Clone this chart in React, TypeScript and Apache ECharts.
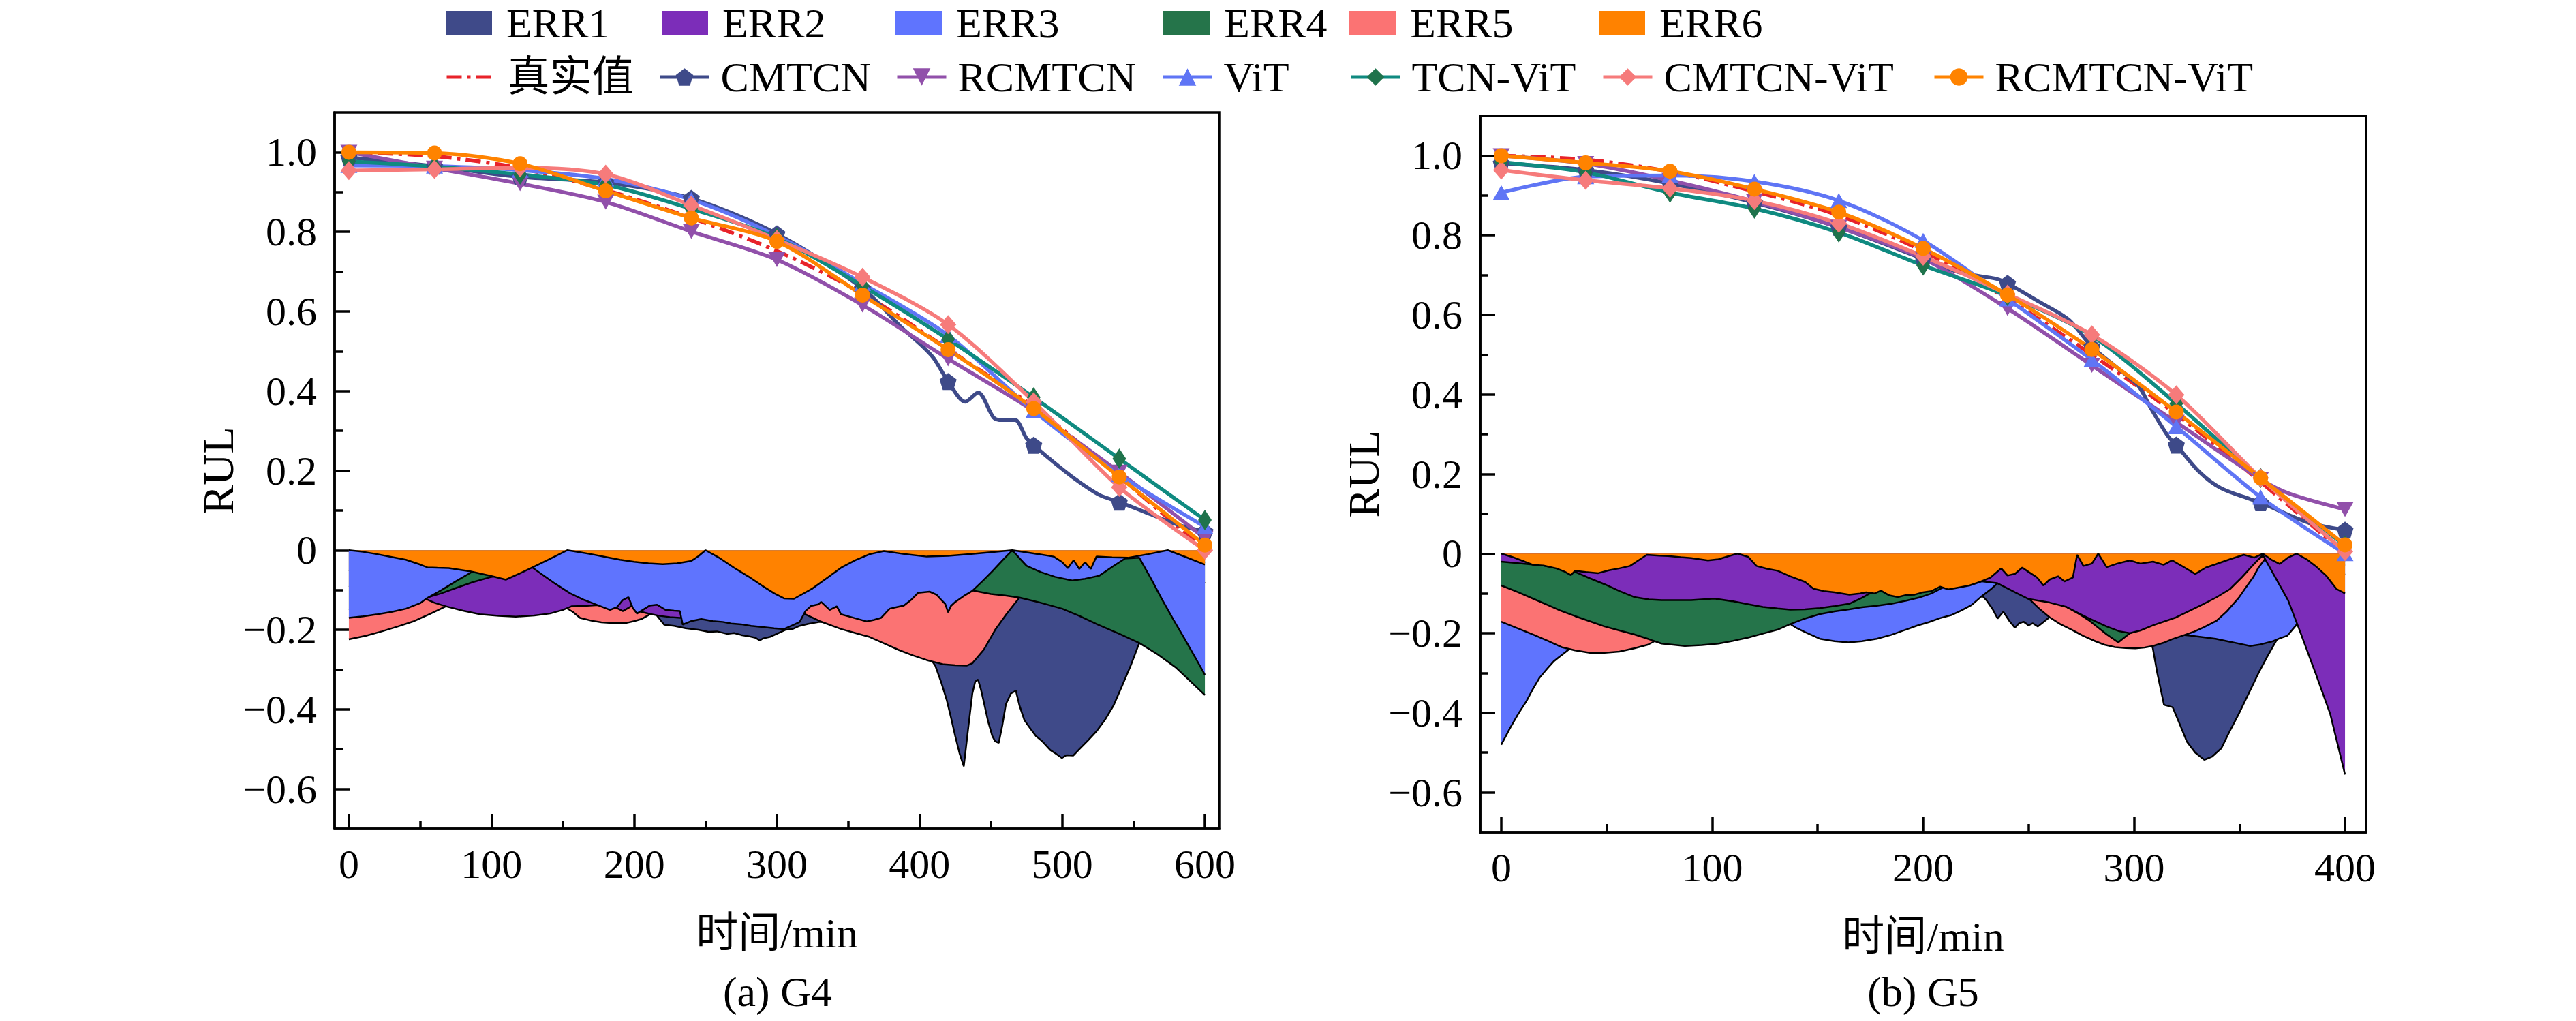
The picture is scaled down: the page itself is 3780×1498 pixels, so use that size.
import React, { useEffect, useRef } from 'react';
import * as echarts from 'echarts';

const FONT = "'Liberation Serif', 'Times New Roman', 'Noto Sans CJK SC', serif";

// 标记点时间
const timeG4 = [0, 60, 120, 180, 240, 300, 360, 420, 480, 540, 600];
const timeG5 = [0, 40, 80, 120, 160, 200, 240, 280, 320, 360, 400];

// 刻度
const xTicksG4 = [0, 100, 200, 300, 400, 500, 600];
const xMinorG4 = [50, 150, 250, 350, 450, 550];
const xTicksG5 = [0, 100, 200, 300, 400];
const xMinorG5 = [50, 150, 250, 350];
const yTicks = [-0.6, -0.4, -0.2, 0, 0.2, 0.4, 0.6, 0.8, 1.0];
const yMinor = [-0.5, -0.3, -0.1, 0.1, 0.3, 0.5, 0.7, 0.9];

// ---- G4 预测曲线 ----
const trueG4 = [1.0, 0.99, 0.96, 0.905, 0.835, 0.752, 0.645, 0.505, 0.36, 0.185, 0.0];
const cmtcnG4 = [
  [0, 0.987], [60, 0.965], [120, 0.938], [180, 0.924], [240, 0.884], [300, 0.795], [360, 0.658],
  [387, 0.561], [401, 0.516], [410, 0.482], [420, 0.424], [432, 0.373], [441, 0.396], [452, 0.333],
  [458, 0.327], [467, 0.327], [475, 0.281], [480, 0.264], [491, 0.23], [509, 0.179], [526, 0.139],
  [540, 0.121], [560, 0.093], [581, 0.064], [600, 0.047],
];
const rcmtcnG4 = [1.0, 0.96, 0.921, 0.875, 0.801, 0.73, 0.616, 0.481, 0.35, 0.196, 0.03];
const vitG4 = [0.967, 0.965, 0.955, 0.933, 0.881, 0.79, 0.67, 0.54, 0.35, 0.19, 0.059];
const tcnVitG4 = [0.977, 0.964, 0.944, 0.918, 0.858, 0.785, 0.664, 0.53, 0.384, 0.23, 0.076];
const cmtcnVitG4 = [0.954, 0.957, 0.961, 0.945, 0.867, 0.781, 0.686, 0.567, 0.373, 0.158, 0.0];
const rcmtcnVitG4 = [1.0, 0.998, 0.971, 0.903, 0.835, 0.776, 0.641, 0.504, 0.356, 0.184, 0.013];

// ---- G5 预测曲线 ----
const trueG5 = [1.0, 0.99, 0.96, 0.91, 0.85, 0.76, 0.64, 0.5, 0.35, 0.18, 0.0];
const cmtcnG5 = [
  [0, 0.981], [40, 0.964], [80, 0.93], [120, 0.882], [160, 0.82], [200, 0.741], [217, 0.707],
  [235, 0.69], [240, 0.679], [255, 0.633], [269, 0.588], [280, 0.52], [292, 0.467], [302, 0.422],
  [308, 0.365], [316, 0.296], [320, 0.273], [331, 0.205], [341, 0.165], [355, 0.137], [360, 0.128],
  [382, 0.079], [400, 0.059],
];
const rcmtcnG5 = [
  [0, 1.0], [40, 0.98], [80, 0.938], [120, 0.885], [160, 0.82], [200, 0.741], [240, 0.616],
  [280, 0.473], [320, 0.33], [360, 0.187], [374, 0.15], [400, 0.111],
];
const vitG5 = [0.907, 0.947, 0.95, 0.935, 0.887, 0.787, 0.64, 0.487, 0.319, 0.142, 0.0];
const tcnVitG5 = [0.984, 0.958, 0.907, 0.867, 0.807, 0.724, 0.648, 0.547, 0.377, 0.19, 0.02];
const cmtcnVitG5 = [0.964, 0.938, 0.918, 0.887, 0.83, 0.747, 0.652, 0.55, 0.399, 0.19, 0.005];
const rcmtcnVitG5 = [1.0, 0.982, 0.961, 0.916, 0.858, 0.767, 0.65, 0.513, 0.356, 0.19, 0.022];

// ---- G4 误差面积 ----
const err1G4 = [
  [0, -0.05], [50, -0.08], [100, -0.1], [150, -0.12], [200, -0.15], [215, -0.16], [221, -0.187],
  [228, -0.19], [236, -0.196], [245, -0.2], [252, -0.205], [258, -0.204], [265, -0.21], [270, -0.208],
  [275, -0.213], [280, -0.216], [285, -0.22], [288, -0.227], [290, -0.222], [295, -0.218], [300, -0.21],
  [306, -0.2], [311, -0.198], [316, -0.19], [322, -0.185], [330, -0.18], [360, -0.19], [390, -0.22],
  [405, -0.26], [411, -0.29], [415, -0.33], [419, -0.376], [422, -0.42], [425, -0.467], [428, -0.51],
  [431, -0.543], [434, -0.45], [437, -0.36], [439, -0.33], [441, -0.325], [443, -0.35], [445, -0.381],
  [448, -0.43], [451, -0.467], [453, -0.48], [455.5, -0.484], [458, -0.44], [460.5, -0.387], [464, -0.36],
  [467.5, -0.353], [470, -0.39], [473.5, -0.427], [477, -0.445], [481.6, -0.467], [486, -0.48],
  [491.6, -0.502], [495, -0.51], [499.7, -0.522], [503, -0.515], [507.7, -0.516], [512, -0.5],
  [517.8, -0.479], [524, -0.455], [529.8, -0.427], [536, -0.39], [541.9, -0.341], [548, -0.29],
  [554, -0.233], [570, -0.15], [600, -0.08],
];
const err2G4 = [
  [0, -0.09], [20, -0.1], [40, -0.11], [53, -0.121], [60, -0.132], [68, -0.141], [80, -0.152],
  [92, -0.161], [105, -0.165], [117, -0.167], [130, -0.164], [141, -0.159], [150, -0.15], [156, -0.141],
  [165, -0.14], [175, -0.138], [185, -0.14], [192, -0.153], [196, -0.145], [200, -0.135], [205, -0.155],
  [211, -0.16], [218, -0.165], [225, -0.168], [232, -0.17], [240, -0.165], [260, -0.15], [300, -0.12],
  [350, -0.09], [400, -0.08], [450, -0.07], [500, -0.05], [550, -0.03], [600, -0.02],
];
const err3G4 = [
  [0, -0.17], [10, -0.166], [20, -0.161], [30, -0.155], [40, -0.147], [50, -0.133], [55, -0.12],
  [65, -0.1], [75, -0.078], [87, -0.053], [100, -0.048], [110, -0.045], [120, -0.043], [128, -0.042],
  [135, -0.06], [145, -0.085], [155, -0.108], [165, -0.125], [175, -0.139], [183, -0.15], [188, -0.143],
  [192, -0.125], [196, -0.118], [199, -0.145], [202, -0.159], [206, -0.15], [211, -0.139], [216, -0.137],
  [222, -0.15], [228, -0.152], [232, -0.153], [234, -0.187], [240, -0.178], [247, -0.173], [255, -0.178],
  [262, -0.18], [268, -0.184], [275, -0.186], [282, -0.19], [290, -0.193], [298, -0.196], [305, -0.198],
  [312, -0.187], [316, -0.18], [320, -0.153], [324, -0.14], [329, -0.136], [331, -0.13], [337, -0.15],
  [342, -0.141], [345, -0.161], [352, -0.168], [358, -0.174], [363, -0.179], [368, -0.175], [373, -0.17],
  [379, -0.147], [384, -0.143], [389, -0.139], [394, -0.125], [399, -0.107], [407, -0.104], [412, -0.112],
  [415, -0.124], [418, -0.135], [420, -0.156], [422, -0.14], [425, -0.13], [431, -0.115], [437, -0.102],
  [444, -0.078], [451, -0.053], [458, -0.026], [465, 0], [470, -0.02], [475, -0.039], [485, -0.055],
  [495, -0.067], [507, -0.076], [516, -0.072], [526, -0.064], [535, -0.042], [544, -0.021], [554, -0.019],
  [562, -0.07], [570, -0.124], [578, -0.175], [586, -0.224], [593, -0.268], [600, -0.313],
];
const err4G4 = [
  [0, -0.15], [20, -0.142], [40, -0.133], [53, -0.121], [65, -0.108], [75, -0.095], [87, -0.08],
  [100, -0.067], [110, -0.06], [120, -0.05], [130, -0.04], [150, -0.04], [200, -0.06], [250, -0.07],
  [300, -0.08], [350, -0.085], [400, -0.09], [420, -0.095], [437, -0.101], [450, -0.11], [460, -0.114],
  [470, -0.119], [485, -0.132], [500, -0.147], [512, -0.165], [525, -0.187], [540, -0.21], [554, -0.233],
  [567, -0.262], [580, -0.296], [590, -0.33], [600, -0.364],
];
const err5G4 = [
  [0, -0.224], [12, -0.215], [23, -0.204], [34, -0.192], [45, -0.179], [57, -0.16], [68, -0.141],
  [80, -0.133], [100, -0.128], [120, -0.125], [140, -0.13], [150, -0.14], [157, -0.155], [162, -0.17],
  [170, -0.177], [177, -0.181], [186, -0.183], [194, -0.183], [200, -0.178], [205, -0.173], [211, -0.161],
  [218, -0.15], [230, -0.14], [260, -0.14], [290, -0.14], [310, -0.145], [316, -0.155], [320, -0.161],
  [330, -0.178], [345, -0.198], [355, -0.208], [365, -0.218], [375, -0.234], [385, -0.25], [395, -0.264],
  [405, -0.276], [417, -0.287], [425, -0.289], [433, -0.29], [437, -0.284], [445, -0.25], [453, -0.2],
  [461, -0.16], [470, -0.119], [480, -0.1], [520, -0.08], [560, -0.05], [600, -0.03],
];
const err6G4 = [
  [0, 0], [10, -0.004], [20, -0.01], [30, -0.017], [40, -0.024], [50, -0.036], [55, -0.043], [62, -0.044],
  [70, -0.045], [85, -0.053], [100, -0.065], [110, -0.074], [120, -0.058], [130, -0.041], [142, -0.02],
  [153, 0], [162, -0.005], [170, -0.01], [180, -0.017], [190, -0.024], [200, -0.029], [210, -0.033],
  [220, -0.035], [230, -0.033], [240, -0.027], [245, -0.015], [250, 0], [260, -0.02], [270, -0.044],
  [280, -0.066], [290, -0.09], [298, -0.108], [305, -0.121], [312, -0.122], [318, -0.11], [325, -0.096],
  [335, -0.07], [345, -0.044], [355, -0.025], [365, -0.01], [375, -0.002], [390, -0.01], [405, -0.016],
  [420, -0.014], [435, -0.01], [450, -0.005], [465, 0], [480, -0.008], [494, -0.016], [500, -0.03],
  [504, -0.045], [508, -0.025], [512, -0.047], [516, -0.03], [520, -0.047], [524, -0.016], [535, -0.018],
  [546, -0.019], [560, -0.01], [574, 0], [585, -0.015], [600, -0.036],
];

// ---- G5 误差面积 ----
const err1G5 = [
  [0, -0.1], [50, -0.12], [100, -0.12], [150, -0.11], [200, -0.1], [222, -0.1], [228, -0.106],
  [230, -0.117], [233, -0.14], [235.3, -0.163], [238, -0.146], [241, -0.17], [243.5, -0.186],
  [245.5, -0.175], [247.6, -0.171], [250, -0.18], [252, -0.175], [254.4, -0.183], [257, -0.172],
  [259.8, -0.16], [270, -0.15], [290, -0.2], [300, -0.22], [308.8, -0.235], [311, -0.3], [314.2, -0.38],
  [318.3, -0.386], [321, -0.42], [325, -0.472], [329, -0.5], [333.3, -0.518], [337, -0.51], [341.4, -0.489],
  [345, -0.45], [349.6, -0.403], [354, -0.355], [359, -0.3], [363, -0.26], [367.3, -0.22], [380, -0.1],
  [400, -0.05],
];
const err2G5 = [
  [0, -0.02], [20, -0.03], [30, -0.04], [35, -0.046], [42, -0.062], [49, -0.077], [56, -0.094],
  [63, -0.109], [70, -0.115], [76, -0.117], [90, -0.117], [101, -0.113], [110, -0.12], [117, -0.127],
  [124, -0.134], [131, -0.138], [137, -0.141], [144, -0.14], [151, -0.137], [158, -0.132], [165, -0.126],
  [171, -0.111], [178, -0.09], [190, -0.08], [210, -0.07], [225, -0.068], [235, -0.074], [243.5, -0.097],
  [250, -0.114], [260, -0.123], [268, -0.134], [277.5, -0.16], [287, -0.183], [293, -0.195], [298, -0.2],
  [303, -0.193], [309, -0.18], [320, -0.16], [332, -0.129], [339, -0.11], [345.5, -0.089], [351, -0.06],
  [356, -0.031], [361, -0.003], [367, -0.06], [373, -0.117], [378, -0.186], [386, -0.3], [393, -0.403],
  [400, -0.555],
];
const err3G5 = [
  [0, -0.48], [4, -0.44], [8, -0.403], [12, -0.37], [15, -0.34], [18, -0.313], [21.8, -0.289], [25, -0.27],
  [28.6, -0.255], [32.7, -0.238], [40, -0.22], [60, -0.2], [80, -0.19], [100, -0.185], [120, -0.18],
  [136.7, -0.176], [140, -0.187], [144, -0.197], [151, -0.214], [158, -0.22], [164.6, -0.223], [171, -0.22],
  [178, -0.214], [185, -0.204], [191.8, -0.191], [197, -0.181], [202.7, -0.172], [208, -0.162],
  [213.6, -0.154], [218, -0.143], [223, -0.129], [228, -0.106], [232, -0.09], [235.3, -0.074], [245, -0.09],
  [260, -0.11], [275, -0.14], [290, -0.17], [305, -0.195], [315, -0.2], [326.5, -0.206], [333, -0.21],
  [338.7, -0.214], [346, -0.222], [355, -0.232], [360, -0.228], [365.9, -0.22], [369, -0.213],
  [372.7, -0.206], [376.8, -0.18], [380, -0.15], [390, -0.12], [400, -0.1],
];
const err4G5 = [
  [0, -0.08], [8, -0.097], [15, -0.113], [22, -0.129], [28, -0.143], [35, -0.157], [42, -0.17], [49, -0.183],
  [56, -0.193], [63, -0.203], [70, -0.215], [76, -0.226], [87, -0.232], [95, -0.23], [103, -0.226],
  [110, -0.219], [117, -0.211], [124, -0.201], [131, -0.191], [137, -0.177], [144, -0.163], [151, -0.152],
  [158, -0.145], [165, -0.14], [171, -0.135], [178, -0.131], [185, -0.126], [192, -0.118], [199, -0.109],
  [204, -0.1], [208, -0.089], [215, -0.07], [227, -0.06], [240, -0.065], [250, -0.095], [260, -0.115],
  [268, -0.134], [274, -0.152], [279, -0.169], [283, -0.186], [287, -0.203], [292.5, -0.223], [298, -0.2],
  [310, -0.17], [330, -0.12], [345, -0.08], [355, -0.03], [362, -0.002], [380, -0.02], [400, -0.03],
];
const err5G5 = [
  [0, -0.171], [8, -0.188], [15, -0.203], [22, -0.219], [28.6, -0.235], [35, -0.243], [42, -0.249],
  [49, -0.249], [56, -0.246], [63, -0.238], [69.4, -0.229], [80, -0.2], [100, -0.18], [130, -0.15],
  [150, -0.12], [170, -0.1], [190, -0.085], [210, -0.075], [230, -0.065], [240, -0.08], [250.3, -0.114],
  [255, -0.138], [260, -0.16], [265, -0.177], [270.7, -0.192], [276, -0.207], [281.6, -0.22], [286, -0.229],
  [291, -0.235], [296, -0.237], [300.6, -0.238], [305, -0.236], [309, -0.232], [314, -0.224], [318, -0.215],
  [323, -0.206], [328, -0.197], [333, -0.185], [339, -0.169], [344, -0.145], [349.6, -0.111], [353, -0.085],
  [356.4, -0.06], [359, -0.035], [362, -0.014], [370, -0.01], [400, -0.02],
];
const err6G5 = [
  [0, 0], [5, -0.008], [10, -0.018], [15, -0.028], [20, -0.03], [26, -0.037], [30, -0.045], [33, -0.054],
  [35, -0.043], [40, -0.046], [46, -0.049], [51, -0.042], [56, -0.037], [61, -0.031], [65, -0.017],
  [69, -0.003], [75, -0.005], [79, -0.006], [85, -0.009], [90, -0.011], [98, -0.017], [103, -0.014],
  [108, -0.006], [112, 0], [117, -0.008], [121, -0.031], [126, -0.038], [131, -0.043], [137, -0.057],
  [144, -0.071], [148, -0.088], [153, -0.094], [158, -0.097], [165, -0.103], [170, -0.1], [173, -0.097],
  [177, -0.1], [180, -0.093], [184, -0.105], [188, -0.109], [192, -0.104], [196, -0.103], [200, -0.097],
  [204, -0.094], [208, -0.083], [212, -0.09], [216, -0.086], [222, -0.08], [227, -0.071], [232, -0.06],
  [237, -0.037], [240, -0.055], [243.5, -0.051], [247, -0.035], [250, -0.046], [254, -0.06], [257, -0.08],
  [260, -0.065], [264, -0.057], [267, -0.07], [271, -0.06], [273, -0.003], [276, -0.031], [280, -0.025],
  [283, 0], [287, -0.034], [292, -0.025], [298, -0.017], [303, -0.025], [309, -0.02], [314, -0.028],
  [318, -0.017], [324, -0.035], [329, -0.051], [334, -0.035], [339, -0.026], [345, -0.015], [352, -0.003],
  [357, -0.01], [361, 0], [365, -0.015], [369, -0.026], [373, -0.01], [377, 0], [382, -0.015], [386, -0.031],
  [391, -0.055], [396, -0.089], [400, -0.1],
];

const ERR_NAMES = ['ERR1', 'ERR2', 'ERR3', 'ERR4', 'ERR5', 'ERR6'];
const ERR_COLORS: Record<string, string> = {
  ERR1: '#3f4a89', ERR2: '#7c2db9', ERR3: '#5f74fe', ERR4: '#25744a', ERR5: '#fb7373', ERR6: '#ff8200',
};
// 从后往前的绘制顺序
const orderG4 = ['ERR1', 'ERR5', 'ERR2', 'ERR4', 'ERR3', 'ERR6'];
const orderG5 = ['ERR1', 'ERR3', 'ERR5', 'ERR4', 'ERR2', 'ERR6'];

const MODEL_NAMES = ['真实值', 'CMTCN', 'RCMTCN', 'ViT', 'TCN-ViT', 'CMTCN-ViT', 'RCMTCN-ViT'];

const pentagon = 'path://M5,0L10,3.6L8.1,9.5L1.9,9.5L0,3.6Z';
const triDown = 'path://M0,0L10,0L5,8.7Z';

const STYLE: Record<string, any> = {
  '真实值': { line: '#e8232a', mark: '#e8232a', symbol: 'none', size: 0, dash: [22, 8, 5, 8] },
  CMTCN: { line: '#3e4a89', mark: '#3e4a89', symbol: pentagon, size: 25 },
  RCMTCN: { line: '#9150aa', mark: '#9150aa', symbol: triDown, size: [25, 22] },
  ViT: { line: '#5f75f5', mark: '#5f75f5', symbol: 'triangle', size: [25, 22] },
  'TCN-ViT': { line: '#0f8a80', mark: '#1f734c', symbol: 'diamond', size: [20, 30] },
  'CMTCN-ViT': { line: '#f67b7b', mark: '#f67b7b', symbol: 'diamond', size: [24, 28] },
  'RCMTCN-ViT': { line: '#ff8300', mark: '#ff8300', symbol: 'circle', size: 22 },
};

const toPairs = (times: number[], vals: number[]) => times.map((t, i) => [t, vals[i]]);

const App: React.FC = () => {
  const chartRef = useRef<HTMLDivElement | null>(null);

  useEffect(() => {
    document.body.style.margin = '0';
    if (!chartRef.current) return;
    const chart = echarts.init(chartRef.current, null, { renderer: 'svg' });

    const textBase = { fontFamily: FONT, color: '#000' };

    const predG4: Record<string, number[][]> = {
      '真实值': toPairs(timeG4, trueG4),
      CMTCN: cmtcnG4,
      RCMTCN: toPairs(timeG4, rcmtcnG4),
      ViT: toPairs(timeG4, vitG4),
      'TCN-ViT': toPairs(timeG4, tcnVitG4),
      'CMTCN-ViT': toPairs(timeG4, cmtcnVitG4),
      'RCMTCN-ViT': toPairs(timeG4, rcmtcnVitG4),
    };
    const predG5: Record<string, number[][]> = {
      '真实值': toPairs(timeG5, trueG5),
      CMTCN: cmtcnG5,
      RCMTCN: rcmtcnG5,
      ViT: toPairs(timeG5, vitG5),
      'TCN-ViT': toPairs(timeG5, tcnVitG5),
      'CMTCN-ViT': toPairs(timeG5, cmtcnVitG5),
      'RCMTCN-ViT': toPairs(timeG5, rcmtcnVitG5),
    };
    const errG4: Record<string, number[][]> = {
      ERR1: err1G4, ERR2: err2G4, ERR3: err3G4, ERR4: err4G4, ERR5: err5G4, ERR6: err6G4,
    };
    const errG5: Record<string, number[][]> = {
      ERR1: err1G5, ERR2: err2G5, ERR3: err3G5, ERR4: err4G5, ERR5: err5G5, ERR6: err6G5,
    };

    const series: any[] = [];
    const addChart = (g: number, errs: Record<string, number[][]>, order: string[], preds: Record<string, number[][]>, markTimes: number[]) => {
      order.forEach((name, k) => {
        series.push({
          type: 'line', name, xAxisIndex: g * 2, yAxisIndex: g * 2,
          data: errs[name], symbol: 'none', smooth: false, z: 3 + k,
          color: ERR_COLORS[name],
          itemStyle: { color: ERR_COLORS[name] },
          lineStyle: { color: '#000', width: 2.5 },
          areaStyle: { color: ERR_COLORS[name], opacity: 1 },
        });
      });
      MODEL_NAMES.forEach((name) => {
        const st = STYLE[name];
        const data = preds[name].map((p) =>
          markTimes.indexOf(p[0]) >= 0 ? { value: p } : { value: p, symbol: 'none' });
        series.push({
          type: 'line', name, xAxisIndex: g * 2, yAxisIndex: g * 2, data,
          smooth: 0.3, symbol: st.symbol, symbolSize: st.size, z: 12,
          color: st.mark,
          itemStyle: { color: st.mark },
          lineStyle: { color: st.line, width: 5.5, type: st.dash || 'solid' },
        });
      });
    };
    addChart(0, errG4, orderG4, predG4, timeG4);
    addChart(1, errG5, orderG5, predG5, timeG5);

    const axisLine = { onZero: false, lineStyle: { color: '#000', width: 3.5 } };
    const yFmt = (v: number) => {
      const r = Math.round(v * 10) / 10;
      if (r === 0) return '0';
      return (r < 0 ? '\u2212' : '') + Math.abs(r).toFixed(1);
    };
    const xAxes = (g: number, max: number, major: number[], minor: number[]) => [
      {
        gridIndex: g, type: 'value', min: -10, max, position: 'bottom',
        axisLine,
        axisTick: { inside: true, length: 22, customValues: major, lineStyle: { color: '#000', width: 3.5 } },
        axisLabel: { customValues: major, margin: 22, fontSize: 60, ...textBase },
        splitLine: { show: false },
        name: '时间/min', nameLocation: 'middle', nameGap: 122,
        nameTextStyle: { fontSize: 62, ...textBase },
      },
      {
        gridIndex: g, type: 'value', min: -10, max, position: 'bottom',
        axisLine: { show: false, onZero: false },
        axisTick: { inside: true, length: 12, customValues: minor, lineStyle: { color: '#000', width: 3.5 } },
        axisLabel: { show: false },
        splitLine: { show: false },
      },
    ];
    const yAxes = (g: number) => [
      {
        gridIndex: g, type: 'value', min: -0.7, max: 1.1, position: 'left',
        axisLine,
        axisTick: { inside: true, length: 22, customValues: yTicks, lineStyle: { color: '#000', width: 3.5 } },
        axisLabel: { customValues: yTicks, formatter: yFmt, margin: 26, fontSize: 60, ...textBase },
        splitLine: { show: false },
        name: 'RUL', nameLocation: 'middle', nameGap: 128,
        nameTextStyle: { fontSize: 64, ...textBase },
      },
      {
        gridIndex: g, type: 'value', min: -0.7, max: 1.1, position: 'left',
        axisLine: { show: false, onZero: false },
        axisTick: { inside: true, length: 12, customValues: yMinor, lineStyle: { color: '#000', width: 3.5 } },
        axisLabel: { show: false },
        splitLine: { show: false },
      },
    ];

    const legendRow1 = [654, 971, 1314, 1707, 1980, 2346];
    const legendRow2 = [653, 966, 1314, 1704, 1980, 2350, 2836];
    const legends: any[] = [];
    ERR_NAMES.forEach((name, i) => {
      legends.push({
        left: legendRow1[i], top: 3, padding: 0, itemWidth: 68, itemHeight: 36,
        selectedMode: false,
        data: [{ name, icon: 'rect' }],
        itemStyle: { borderWidth: 0 },
        textStyle: { fontSize: 62, ...textBase, padding: [0, 0, 0, 16] },
      });
    });
    MODEL_NAMES.forEach((name, i) => {
      const item = name === '真实值'
        ? { name, itemStyle: { color: 'rgba(0,0,0,0)', borderWidth: 0 } }
        : { name };
      legends.push({
        left: legendRow2[i], top: 82, padding: 0, itemWidth: 72, itemHeight: 32,
        selectedMode: false,
        data: [item],
        lineStyle: { width: 5 },
        textStyle: { fontSize: 62, ...textBase, padding: [0, 0, 0, 12] },
      });
    });

    const option = {
      animation: false,
      backgroundColor: '#fff',
      legend: legends,
      grid: [
        { left: 491, top: 165, width: 1298, height: 1051, show: true, borderColor: '#000', borderWidth: 3.5, backgroundColor: 'transparent' },
        { left: 2172, top: 170, width: 1300, height: 1051, show: true, borderColor: '#000', borderWidth: 3.5, backgroundColor: 'transparent' },
      ],
      xAxis: [...xAxes(0, 610, xTicksG4, xMinorG4), ...xAxes(1, 410, xTicksG5, xMinorG5)],
      yAxis: [...yAxes(0), ...yAxes(1)],
      graphic: [
        { type: 'text', x: 1141, y: 1424, style: { text: '(a) G4', fontSize: 62, fontFamily: FONT, fill: '#000', align: 'center', verticalAlign: 'top' } },
        { type: 'text', x: 2822, y: 1424, style: { text: '(b) G5', fontSize: 62, fontFamily: FONT, fill: '#000', align: 'center', verticalAlign: 'top' } },
      ],
      series,
    };

    chart.setOption(option);
    return () => {
      chart.dispose();
    };
  }, []);

  return <div ref={chartRef} style={{ width: '3780px', height: '1498px' }} />;
};

export default App;
